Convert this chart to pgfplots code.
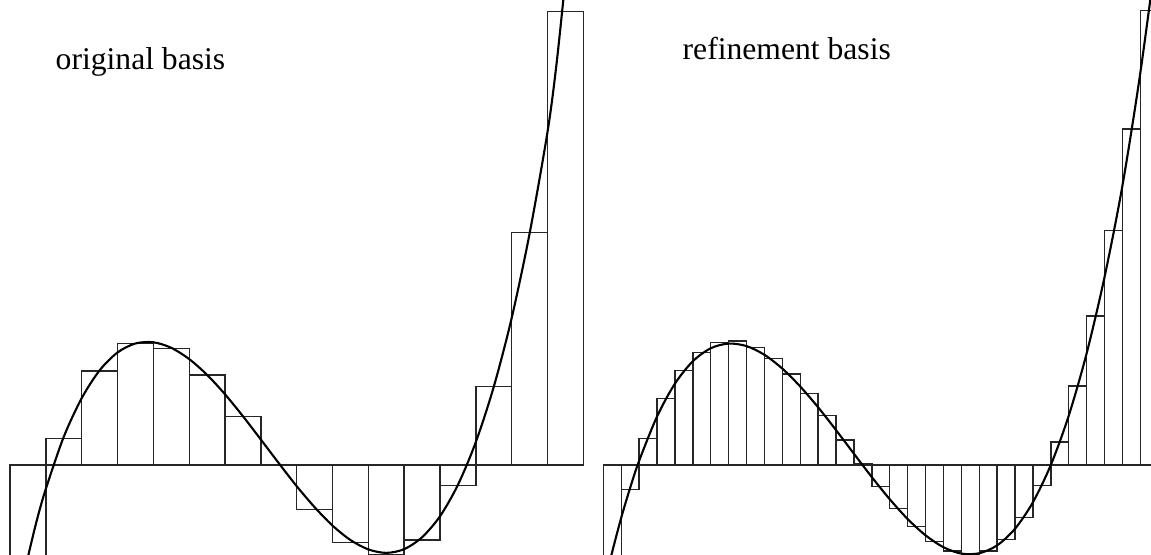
\documentclass[border=0pt]{standalone}
\usepackage{pgfplots}
\pgfplotsset{compat=1.18}
\usepackage{fontspec}
\setmainfont{Liberation Serif}
\begin{document}
\begin{tikzpicture}
\begin{axis}[
  scale only axis, width=115.1mm, height=55.5mm,
  xmin=0, xmax=1151, ymin=-90, ymax=465,
  hide axis, clip=true,
]
% baselines
\addplot[black, line width=0.45pt] coordinates {(10,0) (583.3,0)};
\addplot[black, line width=0.45pt] coordinates {(603.3,0) (1151,0)};
% original basis bars
\addplot[ybar interval, draw=black!85, fill=none, line width=0.4pt] coordinates {
(10,-95) (45.8,26.7) (81.7,94) (117.5,121.7) (153.3,116.7) (189.2,90) (225.0,48.3) (260.8,0) (296.6,-44.3) (332.5,-77.3) (368.3,-89.5) (404.1,-75) (440.0,-20.7) (475.8,78.3) (511.6,232.7) (547.5,453.3) (583.3,0)};
% refinement basis bars
\addplot[ybar interval, draw=black!85, fill=none, line width=0.4pt] coordinates {
(603.3,-95) (621.2,-24.5) (639.1,26.7) (657.0,66.7) (674.9,94.3) (692.8,112.7) (710.7,122.3) (728.6,124) (746.5,117.3) (764.4,106.7) (782.3,91) (800.2,71.7) (818.1,49.3) (836.0,25) (853.9,1) (871.8,-21.7) (889.7,-43.3) (907.6,-61.7) (925.5,-76.7) (943.4,-86) (961.3,-89.5) (979.2,-86) (997.1,-74.7) (1015.0,-52.7) (1032.9,-20.7) (1050.8,23) (1068.7,79) (1086.6,149) (1104.5,234.3) (1122.4,336) (1140.3,454.3) (1158.2,600) (1176.1,0)};
% curves
\addplot[black, line width=0.6pt, smooth, tension=0.5] coordinates {
(20,-130) (24.3,-108) (27.9,-92) (36.9,-55) (45.8,-24) (63.7,28.0) (81.7,66.8) (99.6,94.6) (117.5,112.5) (135.4,121.5) (153.3,122.7) (171.2,117.2) (189.2,105.9) (207.1,90.1) (225.0,70.7) (242.9,48.8) (260.8,25.5) (278.7,1.9) (296.6,-21.1) (314.6,-42.2) (332.5,-60.6) (350.4,-75.0) (368.3,-84.4) (386.2,-87.9) (404.1,-84.2) (422.0,-72.3) (440.0,-51.3) (457.9,-19.9) (475.8,22.9) (493.7,78.0) (511.6,146.7) (529.5,231) (547.5,333) (556.4,400) (565.4,485) (572.5,550)};
\addplot[black, line width=0.6pt, smooth, tension=0.5] coordinates {
(603.3,-123.4) (610.5,-93.5) (621.2,-52.8) (630.2,-22.7) (639.1,4.1) (657.0,48.4) (674.9,81.3) (692.8,103.7) (710.7,116.7) (728.6,121.4) (746.5,118.9) (764.4,110.2) (782.3,96.4) (800.2,78.5) (818.1,57.7) (836.0,34.9) (853.9,11.3) (871.8,-12.1) (889.7,-34.2) (907.6,-54.0) (925.5,-70.3) (943.4,-82.2) (961.3,-88.6) (979.2,-88.3) (997.1,-80.4) (1015.0,-63.8) (1032.9,-37.3) (1050.8,0) (1068.7,49.2) (1086.6,111.5) (1104.5,187.8) (1122.4,279.2) (1140.3,392) (1158.2,525)};
\node[anchor=base west, inner sep=0pt, font=\fontsize{9}{10}\selectfont] at (axis cs:55,395) {original basis};
\node[anchor=base west, inner sep=0pt, font=\fontsize{9}{10}\selectfont] at (axis cs:682,405) {refinement basis};
\end{axis}
\pgfresetboundingbox
\path[use as bounding box] (current axis.south west) rectangle (current axis.north east);
\end{tikzpicture}
\end{document}
